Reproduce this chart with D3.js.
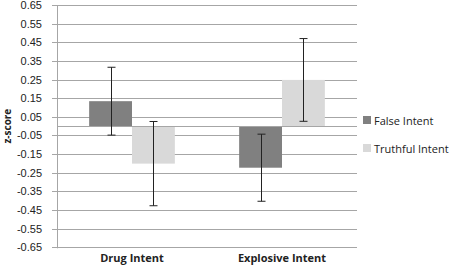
<!DOCTYPE html>
<html>
<head>
<meta charset="utf-8">
<script src="https://cdn.jsdelivr.net/npm/d3@7"></script>
<style>
  body { margin: 0; background: #fff; }
  text { font-family: "Open Sans", "Liberation Sans", sans-serif; fill: #222; }
  .tick-label { font-family: "Liberation Sans", Arial, sans-serif; }
</style>
</head>
<body>
<div id="chart"></div>
<script>
// data
const categories = ["Drug Intent", "Explosive Intent"];
const seriesNames = ["False Intent", "Truthful Intent"];
const falseIntent = [0.134, -0.223];
const truthfulIntent = [-0.201, 0.248];
const falseErr = [0.182, 0.18];
const truthfulErr = [0.226, 0.222];
const yTicks = [0.65, 0.55, 0.45, 0.35, 0.25, 0.15, 0.05, -0.05, -0.15, -0.25, -0.35, -0.45, -0.55, -0.65];

const colors = ["#808080", "#d9d9d9"];

const width = 458, height = 266;
const plot = { left: 57, right: 357, top: 5, bottom: 247.3 };

const svg = d3.select("#chart").append("svg")
  .attr("width", width)
  .attr("height", height);

const yScale = d3.scaleLinear()
  .domain([-0.65, 0.65])
  .range([plot.bottom, plot.top]);

const xScale = d3.scaleBand()
  .domain(categories)
  .range([plot.left, plot.right]);

// bars inside each category (gap width ~150%)
const inner = d3.scaleBand()
  .domain(seriesNames)
  .range([0, xScale.bandwidth()])
  .paddingOuter(0.75)
  .paddingInner(0);

// gridlines + ticks
svg.append("g")
  .selectAll("line")
  .data(yTicks)
  .join("line")
  .attr("x1", plot.left - 5)
  .attr("x2", plot.right)
  .attr("y1", d => Math.round(yScale(d)) + 0.5)
  .attr("y2", d => Math.round(yScale(d)) + 0.5)
  .attr("stroke", "#a6a6a6")
  .attr("stroke-width", 1);

// y axis labels
svg.append("g")
  .selectAll("text")
  .data(yTicks)
  .join("text")
  .attr("class", "tick-label")
  .attr("x", 42)
  .attr("y", d => yScale(d) + 4)
  .attr("text-anchor", "end")
  .attr("font-size", "11px")
  .text(d => d.toFixed(2));

// y axis line
svg.append("line")
  .attr("x1", plot.left + 0.5).attr("x2", plot.left + 0.5)
  .attr("y1", plot.top).attr("y2", plot.bottom + 1)
  .attr("stroke", "#a6a6a6");

svg.append("text")
  .attr("transform", `translate(11, ${yScale(0)}) rotate(-90)`)
  .attr("text-anchor", "middle")
  .attr("font-size", "10px")
  .attr("font-weight", "bold")
  .text("z-score");

const rows = [];
categories.forEach((c, i) => {
  rows.push({ cat: c, s: seriesNames[0], v: falseIntent[i], e: falseErr[i], color: colors[0] });
  rows.push({ cat: c, s: seriesNames[1], v: truthfulIntent[i], e: truthfulErr[i], color: colors[1] });
});

// bars
svg.append("g")
  .selectAll("rect")
  .data(rows)
  .join("rect")
  .attr("x", d => xScale(d.cat) + inner(d.s))
  .attr("y", d => yScale(Math.max(0, d.v)))
  .attr("width", inner.bandwidth())
  .attr("height", d => Math.abs(yScale(d.v) - yScale(0)))
  .attr("fill", d => d.color);

// category axis line at zero
svg.append("line")
  .attr("x1", plot.left).attr("x2", plot.right)
  .attr("y1", Math.round(yScale(0)) + 0.5).attr("y2", Math.round(yScale(0)) + 0.5)
  .attr("stroke", "#a6a6a6")
  .attr("stroke-width", 1.2);

// error bars
const eb = svg.append("g").attr("stroke", "#222").attr("stroke-width", 1);
rows.forEach(d => {
  const cx = Math.round(xScale(d.cat) + inner(d.s) + inner.bandwidth() / 2) + 0.5;
  eb.append("line").attr("x1", cx).attr("x2", cx)
    .attr("y1", yScale(d.v + d.e)).attr("y2", yScale(d.v - d.e));
  [d.v + d.e, d.v - d.e].forEach(t => {
    eb.append("line").attr("x1", cx - 4).attr("x2", cx + 4)
      .attr("y1", yScale(t)).attr("y2", yScale(t));
  });
});

// category labels
svg.append("g")
  .selectAll("text")
  .data(categories)
  .join("text")
  .attr("x", d => xScale(d) + xScale.bandwidth() / 2)
  .attr("y", 262)
  .attr("text-anchor", "middle")
  .attr("font-size", "11px")
  .attr("font-weight", "bold")
  .text(d => d);

// legend
const legend = svg.append("g");
seriesNames.forEach((s, i) => {
  const y = 124 + i * 28;
  legend.append("rect")
    .attr("x", 363).attr("y", y - 8)
    .attr("width", 8).attr("height", 8)
    .attr("fill", colors[i]);
  legend.append("text")
    .attr("x", 374).attr("y", y + 1)
    .attr("font-size", "11px")
    .text(s);
});
</script>
</body>
</html>
